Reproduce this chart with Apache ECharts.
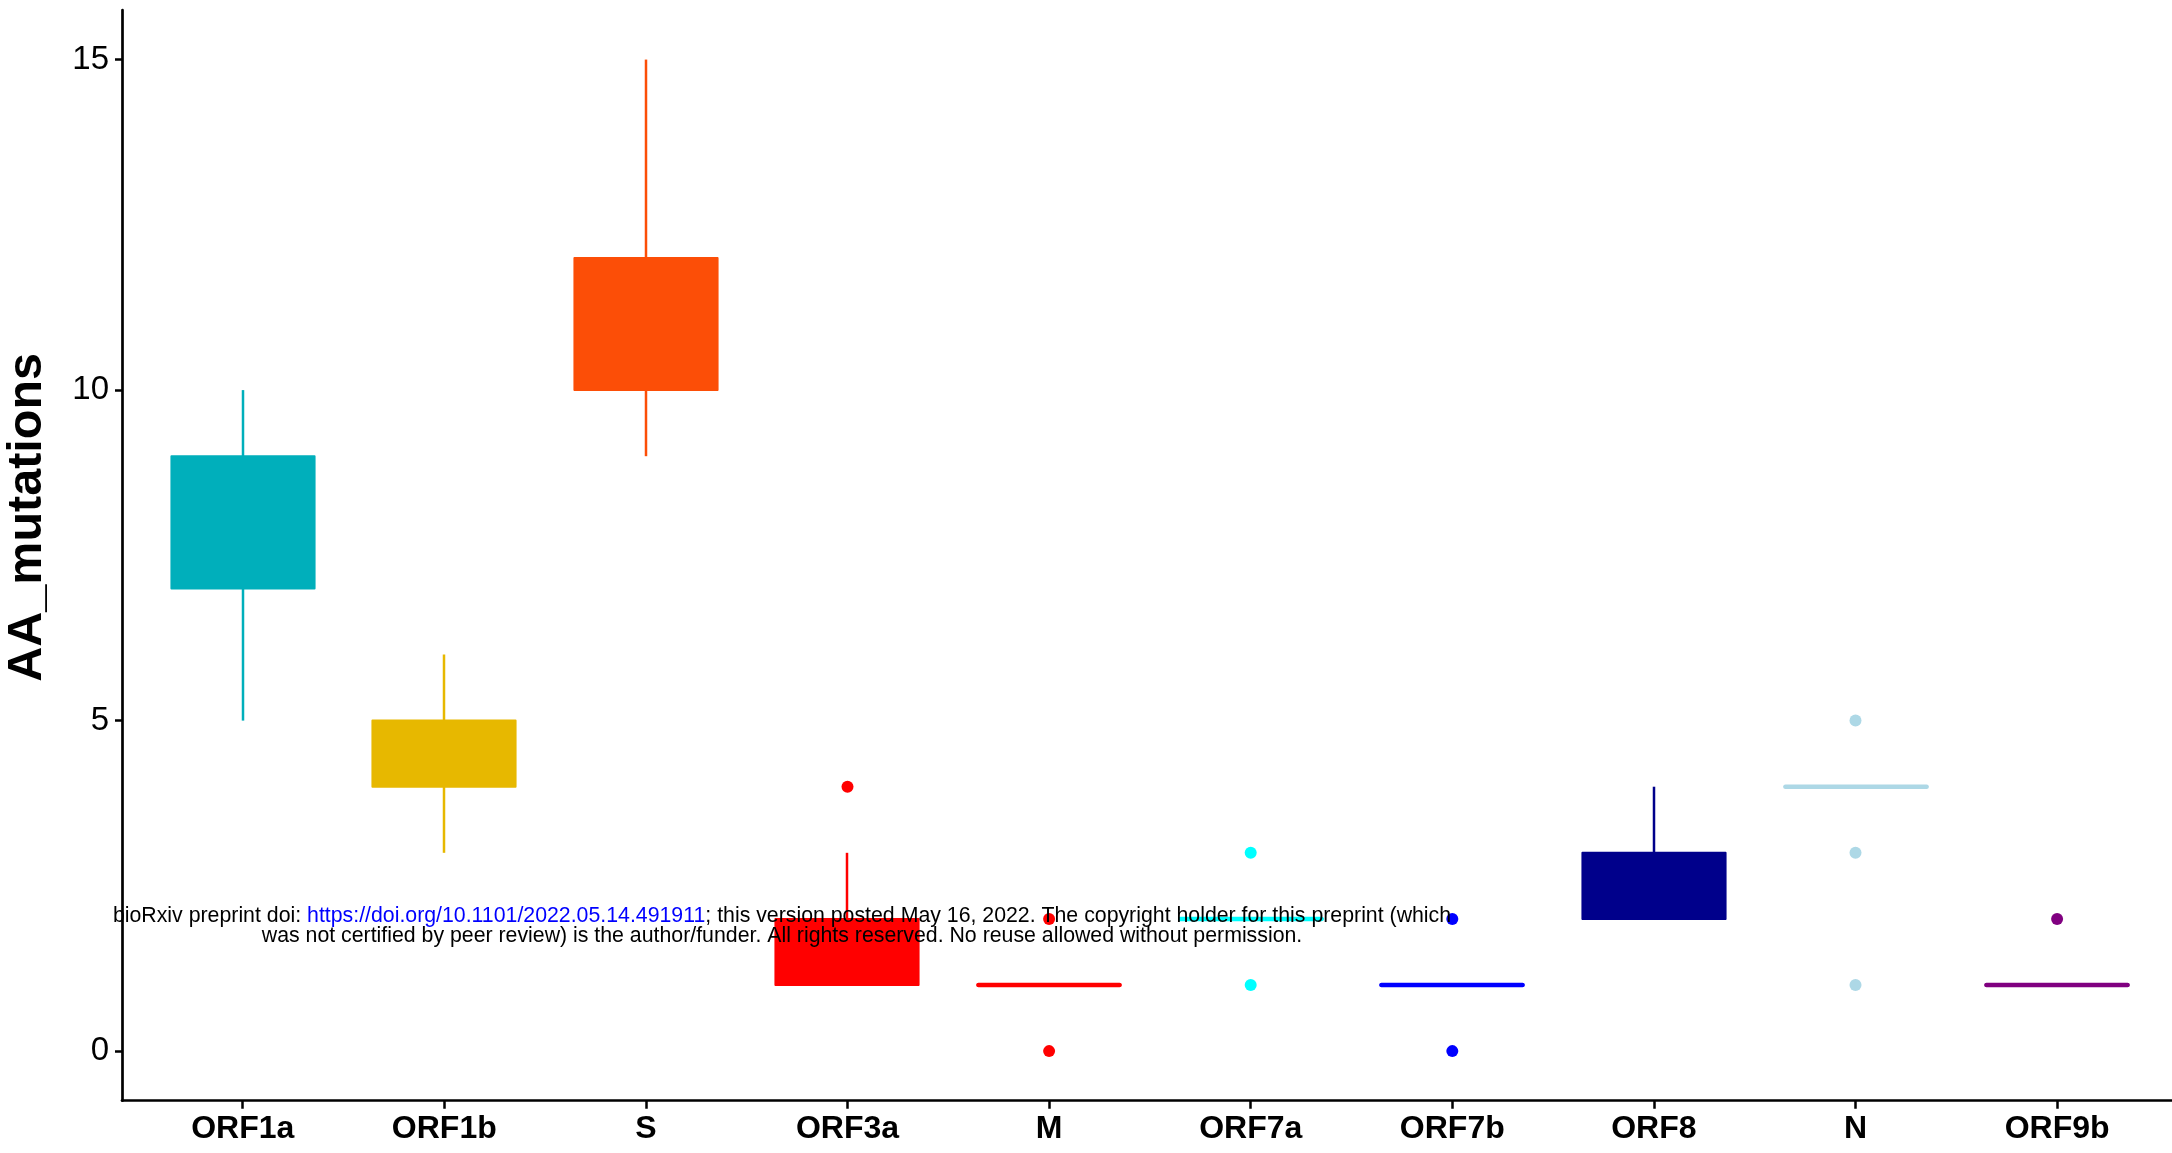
<!DOCTYPE html>
<html><head><meta charset="utf-8">
<script src="https://cdn.jsdelivr.net/npm/echarts@6/dist/echarts.min.js"></script>
<style>html,body{margin:0;padding:0;background:#fff}#c{width:2172px;height:1153px}</style>
</head><body><div id="c"></div>
<script>
const categories = ['ORF1a','ORF1b','S','ORF3a','M','ORF7a','ORF7b','ORF8','N','ORF9b'];
const whiskerLow  = [5, 3, 9, 1, 1, 2, 1, 2, 4, 1];
const q1          = [7, 4, 10, 1, 1, 2, 1, 2, 4, 1];
const median      = [8, 4, 11, 1, 1, 2, 1, 2, 4, 1];
const q3          = [9, 5, 12, 2, 1, 2, 1, 3, 4, 1];
const whiskerHigh = [10, 6, 15, 3, 1, 2, 1, 4, 4, 1];
const outliers    = [[], [], [], [4], [2, 0], [3, 1], [2, 0], [], [5, 3, 1], [2]];
const colors = ['#00AFBB','#E7B800','#FC4E07','#FF0000','#FF0000','#00FFFF','#0000FF','#00008B','#ADD8E6','#800080'];
const yTicks = [0, 5, 10, 15];
const yTitle = 'AA_mutations';
const noteLine1a = 'bioRxiv preprint doi: ';
const noteLink = 'https://doi.org/10.1101/2022.05.14.491911';
const noteLine1b = '; this version posted May 16, 2022. The copyright holder for this preprint (which';
const noteLine2 = 'was not certified by peer review) is the author/funder. All rights reserved. No reuse allowed without permission.';

const FONT = 'Liberation Sans, Arial, Helvetica, sans-serif';
const boxData = categories.map((c, i) => [i, whiskerLow[i], q1[i], median[i], q3[i], whiskerHigh[i]]);
const outlierData = [];
outliers.forEach((arr, i) => arr.forEach(v => outlierData.push({ value: [i, v], itemStyle: { color: colors[i], opacity: 1 } })));

function renderBox(params, api) {
  const i = params.dataIndex;
  const x = api.value(0);
  const w = api.size([1, 0])[0] * 0.71;
  const pLo = api.coord([x, api.value(1)]);
  const pQ1 = api.coord([x, api.value(2)]);
  const pMed = api.coord([x, api.value(3)]);
  const pQ3 = api.coord([x, api.value(4)]);
  const pHi = api.coord([x, api.value(5)]);
  const c = colors[i];
  const cx = Math.round(pQ1[0]);
  const children = [
    { type: 'line', shape: { x1: cx, y1: pQ3[1], x2: cx, y2: pHi[1] }, style: { stroke: c, lineWidth: 2.5 } },
    { type: 'line', shape: { x1: cx, y1: pQ1[1], x2: cx, y2: pLo[1] }, style: { stroke: c, lineWidth: 2.5 } },
    { type: 'rect', shape: { x: cx - w / 2, y: pQ3[1], width: w, height: pQ1[1] - pQ3[1] }, style: { fill: c, stroke: c, lineWidth: 2, lineJoin: 'round' } }
  ];
  // the median shares the box colour, so it only shows where the box has no height
  if (Math.abs(pQ1[1] - pQ3[1]) < 1) {
    children.push({ type: 'line', shape: { x1: cx - w / 2 + 1, y1: pMed[1], x2: cx + w / 2 - 1, y2: pMed[1] }, style: { stroke: c, lineWidth: 4.5, lineCap: 'round' } });
  }
  return { type: 'group', children };
}

const chart = echarts.init(document.getElementById('c'), null, { renderer: 'canvas' });
chart.setOption({
  animation: false,
  backgroundColor: '#ffffff',
  textStyle: { fontFamily: FONT },
  grid: [
    { left: 122, right: 0, top: 10, bottom: 52.3, outerBoundsMode: 'none', containLabel: false },
    { left: 141.9, right: 14.1, top: 10, bottom: 52.3, outerBoundsMode: 'none', containLabel: false }
  ],
  xAxis: [
    { gridIndex: 0, type: 'value', min: 0, max: 1,
      axisLine: { show: true, onZero: false, lineStyle: { color: '#000', width: 2.7 } },
      axisTick: { show: false }, axisLabel: { show: false }, splitLine: { show: false } },
    { gridIndex: 1, type: 'category', data: categories,
      axisLine: { show: false, onZero: false },
      axisTick: { show: true, alignWithLabel: true, interval: 0, length: 8, lineStyle: { color: '#000', width: 2.5 } },
      axisLabel: { interval: 0, margin: 12, fontSize: 32, fontWeight: 'bold', color: '#000', fontFamily: FONT },
      splitLine: { show: false } }
  ],
  yAxis: [
    { gridIndex: 0, type: 'value', min: -0.75, max: 15.75,
      axisLine: { show: true, onZero: false, lineStyle: { color: '#000', width: 2.7 } },
      axisTick: { show: true, length: 7, customValues: yTicks, lineStyle: { color: '#000', width: 2.5 } },
      axisLabel: { customValues: yTicks, fontSize: 33, color: '#000', margin: 13, fontFamily: FONT },
      splitLine: { show: false },
      name: yTitle, nameLocation: 'middle', nameGap: 70,
      nameTextStyle: { fontSize: 48.5, fontWeight: 'bold', color: '#000', fontFamily: FONT, padding: [0, 0, 0, 76] } },
    { gridIndex: 1, type: 'value', min: -0.75, max: 15.75, show: false }
  ],
  series: [
    { type: 'custom', xAxisIndex: 1, yAxisIndex: 1, data: boxData, renderItem: renderBox,
      encode: { x: 0, y: [1, 2, 3, 4, 5] }, z: 2, emphasis: { disabled: true } },
    { type: 'scatter', xAxisIndex: 1, yAxisIndex: 1, data: outlierData, symbol: 'circle', symbolSize: 12,
      itemStyle: { opacity: 1 }, z: 3 }
  ],
  graphic: [
    { type: 'text', x: 782, y: 916.5, z: 100, silent: true,
      style: { text: noteLine1a + '{b|' + noteLink + '}' + noteLine1b, align: 'center', verticalAlign: 'middle',
               fill: '#000', fontSize: 21.3, fontFamily: FONT,
               rich: { b: { fill: '#0000FF', fontSize: 21.3, fontFamily: FONT } } } },
    { type: 'text', x: 782, y: 936.5, z: 100, silent: true,
      style: { text: noteLine2, align: 'center', verticalAlign: 'middle', fill: '#000', fontSize: 21.3, fontFamily: FONT } }
  ]
});
</script></body></html>
